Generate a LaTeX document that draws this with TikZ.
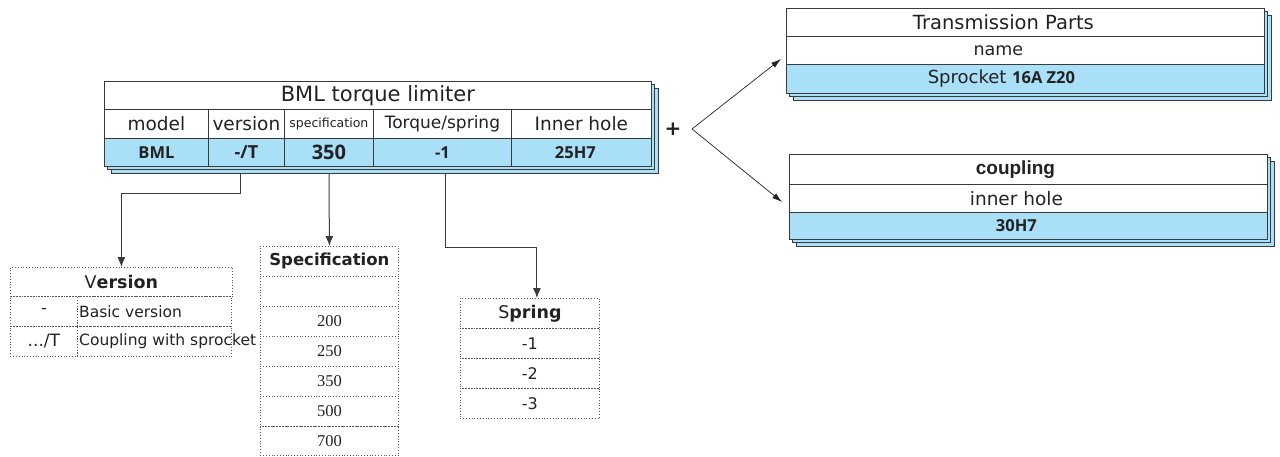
\documentclass[tikz,border=0pt]{standalone}
\usepackage{fontspec}
\setmainfont{DejaVu Sans}
\newfontfamily\boldfont{Open Sans}
\newfontfamily\serfont{Liberation Serif}
\newfontfamily\arfont{Liberation Sans}
\usetikzlibrary{arrows.meta}
\definecolor{cellblue}{HTML}{AADFF8}
\definecolor{edge}{HTML}{3A3A3A}
\definecolor{ink}{HTML}{222222}
\newcommand\fs[1]{\fontsize{#1}{#1}\selectfont}
\newcommand\myshiftleft[1]{\hspace*{#1}}
\begin{document}
\begin{tikzpicture}[x=1pt,y=-1pt,
  cell/.style={draw=edge, line width=0.8pt, anchor=north west, inner sep=0pt, text=ink, font=\fs{17}},
  wcell/.style={cell, fill=white},
  bcell/.style={cell, fill=cellblue, font=\boldfont\bfseries\fs{16.5}},
  dcell/.style={draw=gray!70!black, dotted, line width=0.8pt, anchor=north west, inner sep=0pt, text=ink, font=\fs{15}},
  shadowbox/.style={draw=edge, fill=cellblue, line width=0.8pt},
  arr/.style={draw=edge, line width=1pt, -{Latex[length=10pt,width=8pt]}},
  farr/.style={draw=ink, line width=0.7pt, -{Latex[length=10pt,width=6pt]}},
  lbl/.style={anchor=west, inner sep=2pt, text=ink}]
\useasboundingbox (0,0) rectangle (1280,456);

% ---------- main table ----------
\draw[shadowbox] (111,88) rectangle (658,173);
\draw[shadowbox] (107.5,84.5) rectangle (654.5,169.5);
\node[wcell, minimum width=547pt, minimum height=28pt, font=\fs{21}] (mtitle) at (104,81) {BML torque limiter};
\node[wcell, minimum width=104pt, minimum height=29pt, font=\fs{18.5}] (hmodel) at (104,109) {model};
\node[wcell, minimum width=76pt, minimum height=29pt, font=\fs{18.5}] (hver) at (208,109) {version};
\node[wcell, minimum width=89pt, minimum height=29pt, font=\fs{12.5}] (hspec) at (284,109) {specification};
\node[wcell, minimum width=138pt, minimum height=29pt, font=\fs{17}] (htorq) at (373,109) {Torque/spring};
\node[wcell, minimum width=140pt, minimum height=29pt, font=\fs{18.5}] (hhole) at (511,109) {Inner hole};
\node[bcell, minimum width=104pt, minimum height=28pt] (dmodel) at (104,138) {BML};
\node[bcell, minimum width=76pt, minimum height=28pt, font=\boldfont\bfseries\fs{18}] (dver) at (208,138) {-/T};
\node[bcell, minimum width=89pt, minimum height=28pt, font=\boldfont\bfseries\fs{20}] (dspec) at (284,138) {350};
\node[bcell, minimum width=138pt, minimum height=28pt] (dtorq) at (373,138) {-1};
\node[bcell, minimum width=140pt, minimum height=28pt] (dhole) at (511,138) {25H7\myshiftleft{12pt}};

% ---------- transmission parts ----------
\draw[shadowbox] (793,15) rectangle (1271,100);
\draw[shadowbox] (789.5,11.5) rectangle (1267.5,96.5);
\node[wcell, minimum width=478pt, minimum height=28pt, font=\fs{19.5}] (ttitle) at (786,8) {Transmission Parts\myshiftleft{44pt}};
\node[wcell, minimum width=478pt, minimum height=28pt, font=\fs{17.5}] (tname) at (786,36) {name\myshiftleft{54pt}};
\node[bcell, minimum width=478pt, minimum height=29pt, font=\fs{18}] (tval) at (786,64) {Sprocket {\boldfont\bfseries\fs{16.5}16A Z20}\myshiftleft{48pt}};

% ---------- coupling ----------
\draw[shadowbox] (796,161) rectangle (1274,246);
\draw[shadowbox] (792.5,157.5) rectangle (1270.5,242.5);
\node[wcell, minimum width=478pt, minimum height=30pt, font=\arfont\bfseries\fs{19}] (ctitle) at (789,154) {coupling\myshiftleft{26pt}};
\node[wcell, minimum width=478pt, minimum height=28pt, font=\fs{18.5}] (chole) at (789,184) {inner hole\myshiftleft{24pt}};
\node[bcell, minimum width=478pt, minimum height=27pt, font=\boldfont\bfseries\fs{16.5}] (cval) at (789,212) {30H7\myshiftleft{24pt}};

% ---------- plus and fork ----------
\node[font=\bfseries\fs{20}, text=ink, inner sep=0pt] (plus) at (673,129) {+};
\coordinate (fork) at (692,129);
\coordinate (tin) at (781,59);
\coordinate (cin) at (782,202);
\draw[farr] (fork) -- (tin);
\draw[farr] (fork) -- (cin);

% ---------- Version table ----------
\node[dcell, minimum width=222pt, minimum height=29pt, font=\fs{17.5}] (vtitle) at (10,267) {V{\bfseries ersion}};
\node[dcell, minimum width=67pt, minimum height=30pt, font=\fs{16}] (v1a) at (10,296) {-};
\node[dcell, minimum width=154pt, minimum height=30pt] (v1b) at (77,296) {};
\node[lbl, font=\fs{15.5}] at (v1b.west) {Basic version};
\node[dcell, minimum width=67pt, minimum height=30pt, font=\fs{17}] (v2a) at (10,326) {.../T};
\node[dcell, minimum width=154pt, minimum height=30pt] (v2b) at (77,326) {};
\node[lbl, font=\fs{15.5}] at (v2b.west) {Coupling with sprocket};

% ---------- Specification table ----------
\node[dcell, minimum width=138pt, minimum height=30pt, font=\bfseries\fs{16.5}] (stitle) at (260,246) {Specification};
\node[dcell, minimum width=138pt, minimum height=30pt] (s0) at (260,276) {};
\node[dcell, minimum width=138pt, minimum height=30pt, font=\serfont\fs{16.5}] (s1) at (260,306) {200};
\node[dcell, minimum width=138pt, minimum height=30pt, font=\serfont\fs{16.5}] (s2) at (260,336) {250};
\node[dcell, minimum width=138pt, minimum height=30pt, font=\serfont\fs{16.5}] (s3) at (260,366) {350};
\node[dcell, minimum width=138pt, minimum height=30pt, font=\serfont\fs{16.5}] (s4) at (260,396) {500};
\node[dcell, minimum width=138pt, minimum height=29pt, font=\serfont\fs{16.5}] (s5) at (260,426) {700};

% ---------- Spring table ----------
\node[dcell, minimum width=139pt, minimum height=30pt, font=\fs{17.5}] (ptitle) at (460,298) {S{\bfseries pring}};
\node[dcell, minimum width=139pt, minimum height=30pt, font=\fs{16}] (p1) at (460,328) {-1};
\node[dcell, minimum width=139pt, minimum height=30pt, font=\fs{16}] (p2) at (460,358) {-2};
\node[dcell, minimum width=139pt, minimum height=30pt, font=\fs{16}] (p3) at (460,388) {-3};

% ---------- connectors ----------
\coordinate (c1) at (240,174);
\coordinate (c2) at (329,174);
\coordinate (c3) at (445,174);
\draw[arr] (c1) -- ++(0,19) -| (vtitle.north);
\draw[arr] (c2) -- (stitle.north);
\draw[arr] (c3) -- ++(0,73) -| ([xshift=7pt]ptitle.north);
\end{tikzpicture}
\end{document}
